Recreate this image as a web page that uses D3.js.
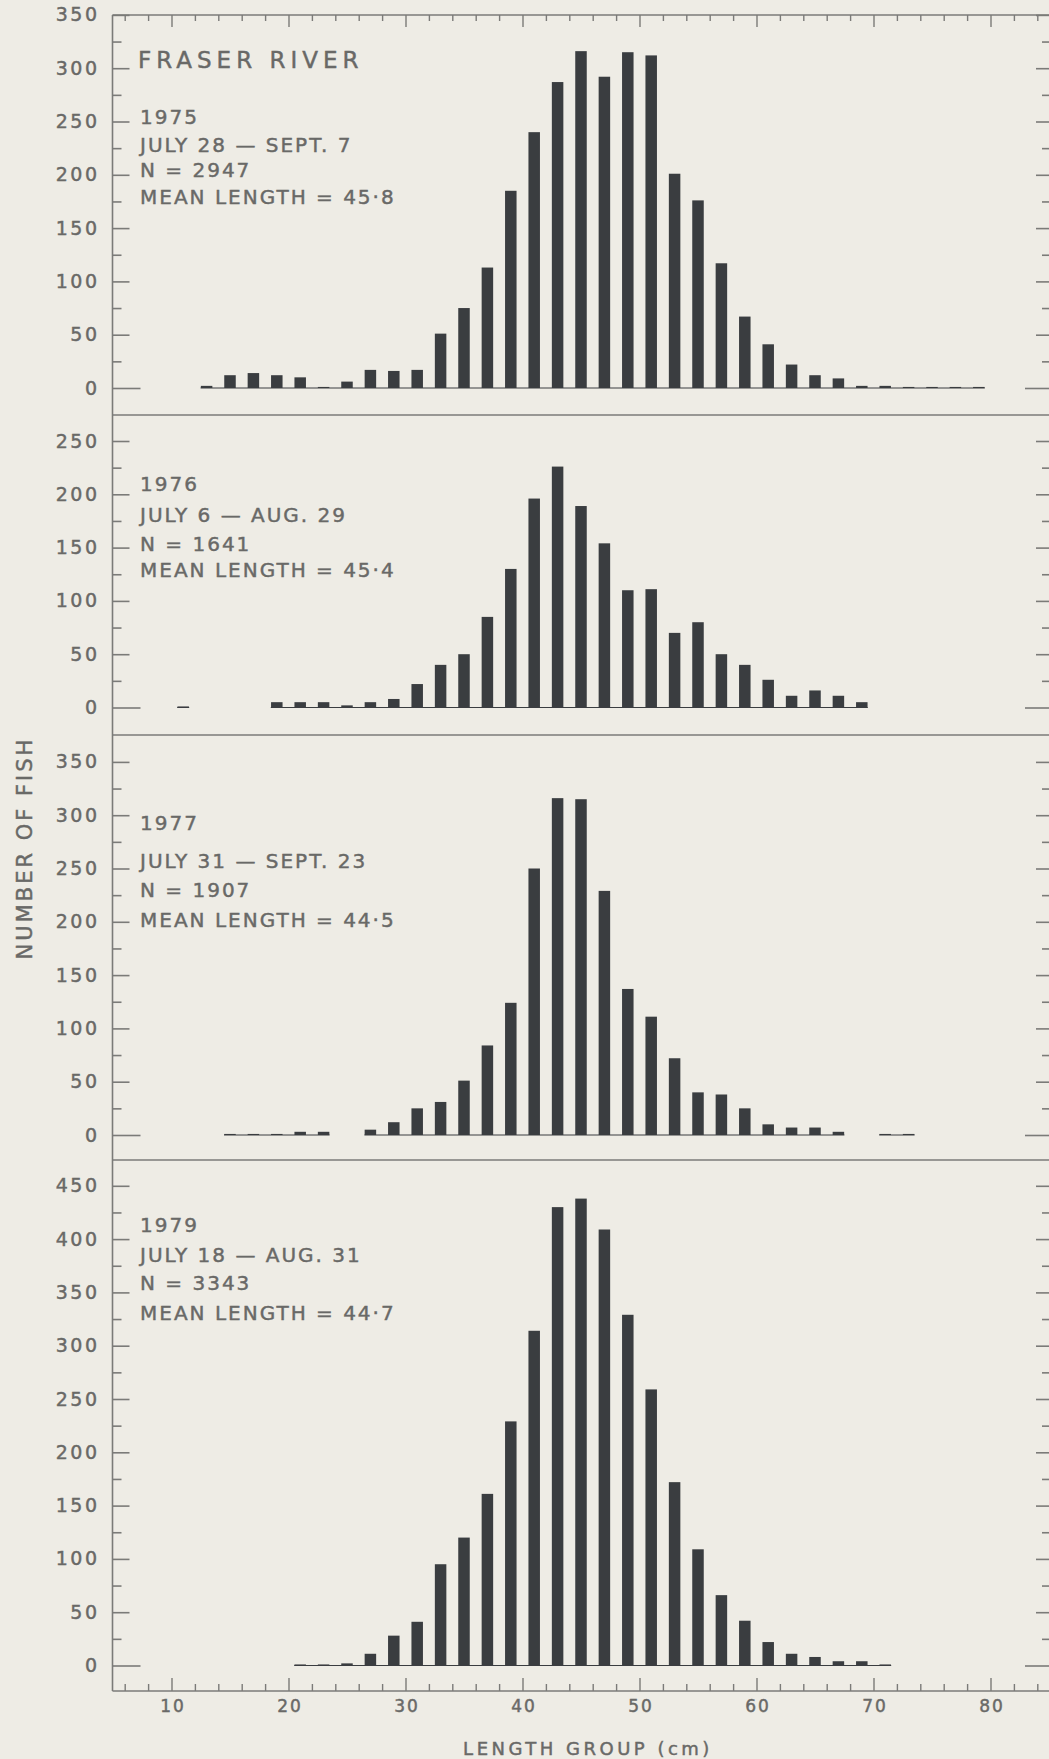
<!DOCTYPE html>
<html>
<head>
<meta charset="utf-8">
<script src="https://cdn.jsdelivr.net/npm/d3@7"></script>
<style>
  html, body { margin: 0; padding: 0; background: #eeece5; }
  svg { display: block; }
</style>
</head>
<body>
<div id="chart"></div>
<script>
// length groups (cm), bars sit on the odd centre of each 2 cm group
var lengthGroups = [11, 13, 15, 17, 19, 21, 23, 25, 27, 29, 31, 33, 35, 37, 39, 41, 43, 45,
                    47, 49, 51, 53, 55, 57, 59, 61, 63, 65, 67, 69, 71, 73, 75, 77, 79];

// number of fish per length group
var counts1975 = [0, 2, 12, 14, 12, 10, 1, 6, 17, 16, 17, 51, 75, 113, 185, 240, 287, 316,
                  292, 315, 312, 201, 176, 117, 67, 41, 22, 12, 9, 2, 2, 1, 1, 1, 1];
var counts1976 = [1, 0, 0, 0, 5, 5, 5, 2, 5, 8, 22, 40, 50, 85, 130, 196, 226, 189,
                  154, 110, 111, 70, 80, 50, 40, 26, 11, 16, 11, 5, 0, 0, 0, 0, 0];
var counts1977 = [0, 0, 1, 1, 1, 3, 3, 0, 5, 12, 25, 31, 51, 84, 124, 250, 316, 315,
                  229, 137, 111, 72, 40, 38, 25, 10, 7, 7, 3, 0, 1, 1, 0, 0, 0];
var counts1979 = [0, 0, 0, 0, 0, 1, 1, 2, 11, 28, 41, 95, 120, 161, 229, 314, 430, 438,
                  409, 329, 259, 172, 109, 66, 42, 22, 11, 8, 4, 4, 1, 0, 0, 0, 0];

var years = ["1975", "1976", "1977", "1979"];
var dateRanges = ["JULY 28 \u2014 SEPT. 7", "JULY 6 \u2014 AUG. 29", "JULY 31 \u2014 SEPT. 23", "JULY 18 \u2014 AUG. 31"];
var sampleSizes = ["N = 2947", "N = 1641", "N = 1907", "N = 3343"];
var meanLengths = ["MEAN LENGTH = 45\u00b78", "MEAN LENGTH = 45\u00b74", "MEAN LENGTH = 44\u00b75", "MEAN LENGTH = 44\u00b77"];

var yMaxes = [350, 250, 350, 450];
var xTickLabels = [10, 20, 30, 40, 50, 60, 70, 80];

var allCounts = [counts1975, counts1976, counts1977, counts1979];

// layout (pixels)
var width = 1049, height = 1759;
var left_axis = 112.5, right_edge = 1049;
var panel_tops = [15, 415, 735, 1160];
var panel_zeros = [388, 707.5, 1135, 1665.5];
var bottom_axis = 1691;
var unit = 1.066;          // px per fish, same in every panel
var text_tops = [124, 491, 830, 1232];
var line_offsets = [[0, 28, 53, 80], [0, 31, 60, 86], [0, 38, 67, 97], [0, 30, 58, 88]];

var ink = "#3a3d40";
var lineCol = "#7b7b78";
var textCol = "#696967";
var font = "DejaVu Sans";

var svg = d3.select("#chart")
            .append("svg")
            .attr("width", width)
            .attr("height", height);

svg.append("rect")
   .attr("width", width)
   .attr("height", height)
   .attr("fill", "#eeece5");

var x = d3.scaleLinear().domain([5, 85]).range([113, 1049]);

function hline(y) {
  svg.append("line")
     .attr("x1", left_axis).attr("x2", right_edge)
     .attr("y1", y).attr("y2", y)
     .attr("stroke", lineCol)
     .attr("stroke-width", 1.6);
}

// lettering is a bit heavier than the plain font
function letter(sel, size, spacing) {
  sel.attr("font-family", font)
     .attr("font-size", size)
     .attr("letter-spacing", spacing)
     .attr("fill", textCol)
     .attr("stroke", textCol)
     .attr("stroke-width", 0.45);
}

allCounts.forEach(function(counts, i) {
  var yMax = yMaxes[i];
  var y = d3.scaleLinear()
            .domain([0, yMax])
            .range([panel_zeros[i], panel_zeros[i] - yMax * unit]);
  var g = svg.append("g");

  // frame line at the top of each panel
  hline(panel_tops[i]);

  // inner ticks on the left axis
  var lt = g.append("g")
            .attr("transform", "translate(" + left_axis + ",0)")
            .call(d3.axisRight(y).tickValues(d3.range(0, yMax + 1, 25)).tickFormat(""));
  lt.select(".domain").remove();
  lt.selectAll(".tick line")
    .attr("x2", function(d) { return d === 0 ? 28 : (d % 50 === 0 ? 17 : 9); })
    .attr("stroke", lineCol)
    .attr("stroke-width", 1.6);

  // tick labels
  var ll = g.append("g")
            .attr("transform", "translate(" + left_axis + ",0)")
            .call(d3.axisLeft(y).tickValues(d3.range(0, yMax + 1, 50)).tickSize(0).tickPadding(13));
  ll.select(".domain").remove();
  letter(ll.selectAll("text"), 19, 2.5);

  // ticks on the right edge
  var rt = g.append("g")
            .attr("transform", "translate(" + right_edge + ",0)")
            .call(d3.axisLeft(y).tickValues(d3.range(0, yMax + 1, 25)).tickFormat(""));
  rt.select(".domain").remove();
  rt.selectAll(".tick line")
    .attr("x2", function(d) { return d === 0 ? -24 : (d % 50 === 0 ? -13 : -7); })
    .attr("stroke", lineCol)
    .attr("stroke-width", 1.6);

  var rows = lengthGroups.map(function(len, j) { return { len: len, n: counts[j] }; });

  // thin baseline under each unbroken run of non-empty groups
  var runs = [], cur = null;
  rows.forEach(function(d) {
    if (d.n > 0) {
      if (!cur) { cur = [d.len, d.len]; runs.push(cur); }
      cur[1] = d.len;
    } else {
      cur = null;
    }
  });
  g.selectAll("line.base")
   .data(runs)
   .enter()
   .append("line")
   .attr("class", "base")
   .attr("x1", function(r) { return x(r[0]) - 6; })
   .attr("x2", function(r) { return x(r[1]) + 6; })
   .attr("y1", y(0)).attr("y2", y(0))
   .attr("stroke", ink)
   .attr("stroke-width", 1);

  g.selectAll("rect.bar")
   .data(rows.filter(function(d) { return d.n > 0; }))
   .enter()
   .append("rect")
   .attr("class", "bar")
   .attr("x", function(d) { return x(d.len) - 5.75; })
   .attr("y", function(d) { return y(d.n); })
   .attr("width", 11.5)
   .attr("height", function(d) { return y(0) - y(d.n); })
   .attr("fill", ink);

  // notes in the upper left
  var notes = [years[i], dateRanges[i], sampleSizes[i], meanLengths[i]];
  var nt = g.selectAll("text.note")
            .data(notes)
            .enter()
            .append("text")
            .attr("class", "note")
            .attr("x", 140)
            .attr("y", function(d, k) { return text_tops[i] + line_offsets[i][k]; })
            .text(function(d) { return d; });
  letter(nt, 20, 2);
});

letter(svg.append("text")
          .attr("x", 138)
          .attr("y", 68)
          .text("FRASER RIVER"), 23, 5);

// left axis line and bottom axis line
svg.append("line")
   .attr("x1", left_axis).attr("x2", left_axis)
   .attr("y1", panel_tops[0]).attr("y2", bottom_axis)
   .attr("stroke", lineCol)
   .attr("stroke-width", 1.6);
hline(bottom_axis);

// top ticks, pointing down
var topAxis = svg.append("g")
                 .attr("transform", "translate(0," + panel_tops[0] + ")")
                 .call(d3.axisBottom(x).tickValues(d3.range(6, 85, 2)).tickFormat(""));
topAxis.select(".domain").remove();
topAxis.selectAll(".tick line")
       .attr("y2", function(d) { return d % 10 === 0 ? 12 : 6; })
       .attr("stroke", lineCol)
       .attr("stroke-width", 1.4);

// bottom ticks, pointing up
var botTicks = svg.append("g")
                  .attr("transform", "translate(0," + bottom_axis + ")")
                  .call(d3.axisTop(x).tickValues(d3.range(6, 85, 2)).tickFormat(""));
botTicks.select(".domain").remove();
botTicks.selectAll(".tick line")
        .attr("y2", function(d) { return d % 10 === 0 ? -13 : -7; })
        .attr("stroke", lineCol)
        .attr("stroke-width", 1.4);

var botLabels = svg.append("g")
                   .attr("transform", "translate(0," + bottom_axis + ")")
                   .call(d3.axisBottom(x).tickValues(xTickLabels).tickSize(0).tickPadding(9));
botLabels.select(".domain").remove();
letter(botLabels.selectAll("text").attr("dx", 1), 17, 2);

letter(svg.append("text")
          .attr("x", 588)
          .attr("y", 1755)
          .attr("text-anchor", "middle")
          .text("LENGTH GROUP (cm)"), 18, 3.5);

letter(svg.append("text")
          .attr("transform", "translate(32,848) rotate(-90)")
          .attr("text-anchor", "middle")
          .text("NUMBER OF FISH"), 21, 3);
</script>
</body>
</html>
